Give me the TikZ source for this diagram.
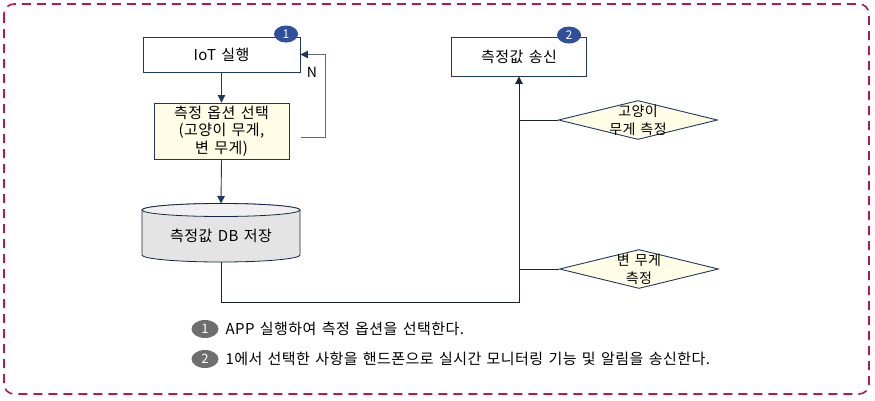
\documentclass[tikz,border=0pt]{standalone}
\usepackage{fontspec}
\setmainfont[LetterSpace=3,WordSpace=1.4]{Noto Sans CJK KR}
\usetikzlibrary{arrows.meta,shapes.geometric}
\definecolor{navy}{HTML}{1F3860}
\definecolor{darkline}{HTML}{1C2433}
\definecolor{framecol}{HTML}{B8155A}
\definecolor{badgeblue}{HTML}{2F4F9A}
\definecolor{badgegray}{HTML}{6E6E6E}
\definecolor{optfill}{HTML}{FFFDE6}
\definecolor{dbfill}{HTML}{E4E4E4}
\definecolor{dbtopfill}{HTML}{F0F0F0}
\definecolor{loopgray}{HTML}{5C6B80}
\begin{document}
\begin{tikzpicture}[x=1pt,y=-1pt,
  font=\fontsize{15}{17.5}\selectfont,
  box/.style={draw=navy, line width=0.9pt, fill=white, inner sep=0pt},
  optbox/.style={draw=navy, line width=0.9pt, fill=optfill, inner sep=0pt, align=center},
  dia/.style={diamond, draw=navy, line width=0.9pt, fill=optfill, inner sep=0pt, minimum width=159pt, minimum height=39pt},
  diatext/.style={align=center, font=\fontsize{14}{18}\selectfont},
  badge/.style={ellipse, fill=badgeblue, text=white, inner sep=0pt, minimum width=24pt, minimum height=17pt, font=\fontsize{12}{12}\selectfont},
  legbadge/.style={ellipse, fill=badgegray, text=white, inner sep=0pt, minimum width=27pt, minimum height=18pt, font=\fontsize{13}{13}\selectfont},
  arr/.style={draw=navy, line width=0.9pt, -{Triangle[length=7.5pt,width=7.5pt]}},
  darr/.style={draw=darkline, line width=0.9pt, -{Triangle[length=7.5pt,width=7.5pt]}},
  dline/.style={draw=darkline, line width=0.9pt},
  frame/.style={draw=framecol, line width=1.6pt, dash pattern=on 9pt off 6pt, rounded corners=10pt}
]
\useasboundingbox (0,0) rectangle (875,400);
\path[frame] (4,4) rectangle (869,394);

% boxes
\node[box, minimum width=157pt, minimum height=35pt] (iot) at (221.5,54.5) {IoT 실행};
\node[optbox, minimum width=135pt, minimum height=56pt] (opt) at (221.5,131) {측정 옵션 선택\\(고양이 무게,\\변 무게)};
\node[box, minimum width=135pt, minimum height=39pt] (send) at (519,56.5) {측정값 송신};
\node[badge] (b1) at (286,34) {1};
\node[badge] (b2) at (569,35) {2};

% cylinder
\path[fill=dbfill, draw=navy!70!black, line width=0.8pt]
  (142,210) -- (142,255) arc[start angle=180, end angle=360, x radius=79pt, y radius=7pt]
  -- (300,210) arc[start angle=0, end angle=180, x radius=79pt, y radius=6.5pt] -- cycle;
\path[fill=dbtopfill, draw=navy!70!black, line width=0.8pt] (221,210) ellipse[x radius=79pt, y radius=6.5pt];
\node (db) at (221,236) {측정값 DB 저장};
\coordinate (dbtop) at (221,203.5);
\coordinate (dbbot) at (221,262);

% diamonds
\node[dia] (d1) at (638,120) {};
\node[diatext] at (d1) {고양이\\무게 측정};
\node[dia] (d2) at (639,269) {};
\node[diatext] at (d2) {변 무게\\측정};

% connectors
\draw[arr] (iot.south) -- (opt.north);
\draw[arr] (opt.south) -- (dbtop);
\coordinate (ls) at (301,137);
\coordinate (lc) at (325,137);
\draw[draw=loopgray, line width=0.9pt, -{Triangle[length=7.5pt,width=7.5pt,color=navy]}] (ls) -- (lc) |- (iot.east);
\node[font=\fontsize{14}{14}\selectfont] (nlab) at (312,72) {N};
\coordinate (bc) at (221,302);
\draw[darr] (dbbot) -- (bc) -| (send.south);
\draw[dline] (d1.west) -- (d1.west -| send.south);
\draw[dline] (d2.west) -- (d2.west -| send.south);

% legend
\node[legbadge] (l1) at (205,329) {1};
\node[anchor=west] (t1) at (222,329) {APP 실행하여 측정 옵션을 선택한다.};
\node[legbadge] (l2) at (205,359) {2};
\node[anchor=west] (t2) at (222,359) {1에서 선택한 사항을 핸드폰으로 실시간 모니터링 기능 및 알림을 송신한다.};
\end{tikzpicture}
\end{document}
